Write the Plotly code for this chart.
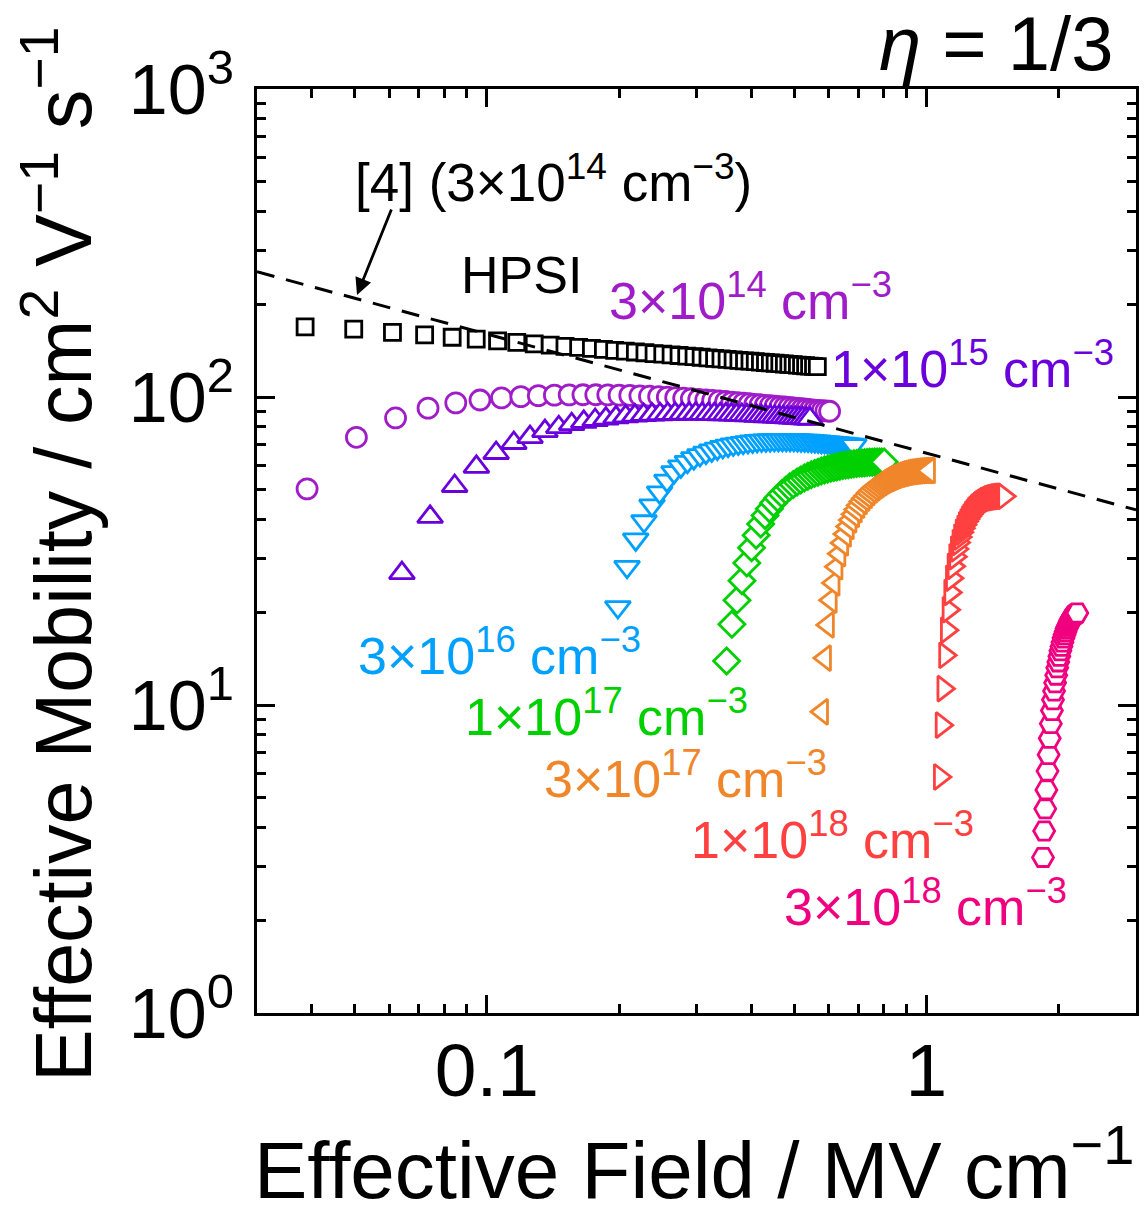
import math
import plotly.graph_objects as go

# ---------------- data ----------------
hpsi_x = [0.0386, 0.0498, 0.061, 0.0722, 0.0834, 0.0946, 0.1058, 0.117, 0.1282, 0.1394, 0.1506, 0.1618,
          0.173, 0.1842, 0.1954, 0.2066, 0.2178, 0.229, 0.2402, 0.2514, 0.2626, 0.2738, 0.285, 0.2962,
          0.3074, 0.3186, 0.3298, 0.341, 0.3522, 0.3634, 0.3746, 0.3858, 0.397, 0.4082, 0.4194, 0.4306,
          0.4418, 0.453, 0.4642, 0.4754, 0.4866, 0.4978, 0.509, 0.5202, 0.5314, 0.5426, 0.5538, 0.565]
hpsi_y = [169, 166, 162, 159, 156.3, 154.1, 152.1, 150.4, 148.8, 147.4, 146.1, 144.9,
          143.8, 142.7, 141.8, 140.9, 140.0, 139.2, 138.4, 137.7, 137.0, 136.4, 135.8, 135.2,
          134.6, 134.0, 133.5, 133.0, 132.5, 132.0, 131.5, 131.1, 130.7, 130.2, 129.8, 129.4,
          129.1, 128.7, 128.3, 128.0, 127.6, 127.3, 127.0, 126.6, 126.3, 126.0, 125.8, 125.5]

n3e14_x = [0.039, 0.0505, 0.062, 0.0735, 0.085, 0.0965, 0.108, 0.1195, 0.131, 0.1425, 0.154, 0.1655,
           0.177, 0.1885, 0.2, 0.2115, 0.223, 0.2345, 0.246, 0.2575, 0.269, 0.2805, 0.292, 0.3035,
           0.315, 0.3265, 0.338, 0.3495, 0.361, 0.3725, 0.384, 0.3955, 0.407, 0.4185, 0.43, 0.4415,
           0.453, 0.4645, 0.476, 0.4875, 0.499, 0.5105, 0.522, 0.5335, 0.545, 0.5565, 0.568, 0.5795,
           0.591, 0.6025]
n3e14_y = [50.3, 74, 85.5, 92, 95.7, 97.8, 99.3, 100.3, 101, 101.4, 101.6, 101.7,
           101.7, 101.6, 101.4, 101.2, 100.9, 100.6, 100.3, 99.9, 99.5, 99.1, 98.7, 98.3,
           97.9, 97.5, 97.1, 96.7, 96.3, 95.9, 95.5, 95.1, 94.7, 94.4, 94.0, 93.7,
           93.4, 93.1, 92.8, 92.5, 92.2, 91.9, 91.6, 91.3, 91.0, 90.7, 90.5, 90.3,
           90.1, 89.9]

n1e15_x = [0.0641, 0.0743, 0.0845, 0.0947, 0.105, 0.1152, 0.1254, 0.1356, 0.1458, 0.156, 0.1662, 0.1764,
           0.1866, 0.1968, 0.207, 0.2172, 0.2274, 0.2376, 0.2478, 0.258, 0.2682, 0.2784, 0.2886, 0.2988,
           0.309, 0.3192, 0.3294, 0.3396, 0.3498, 0.36, 0.3702, 0.3804, 0.3906, 0.4008, 0.411, 0.4212,
           0.4314, 0.4416, 0.4518, 0.462, 0.4722, 0.4824, 0.4926, 0.5028, 0.513, 0.5232, 0.5334, 0.5436]
n1e15_y = [26.8, 40.8, 51.4, 59.3, 65.8, 70.9, 74.1, 77.5, 79.8, 81.6, 83.0, 84.2,
           85.1, 85.9, 86.5, 87.0, 87.4, 87.7, 87.9, 88.1, 88.2, 88.3, 88.3, 88.3,
           88.2, 88.1, 88.0, 87.9, 87.8, 87.7, 87.5, 87.4, 87.2, 87.1, 86.9, 86.8,
           86.6, 86.5, 86.3, 86.2, 86.0, 85.9, 85.7, 85.6, 85.4, 85.3, 85.1, 85.0]

n3e16_x = [0.1987, 0.2085, 0.2182, 0.2279, 0.2376, 0.2473, 0.257, 0.2667, 0.2764, 0.2861, 0.2958, 0.3055,
           0.3152, 0.3249, 0.3346, 0.3443, 0.354, 0.3637, 0.3734, 0.3831, 0.3928, 0.4025, 0.4122, 0.4219,
           0.4316, 0.4413, 0.451, 0.4607, 0.4704, 0.4801, 0.4898, 0.4995, 0.5092, 0.5189, 0.5286, 0.5383,
           0.548, 0.5577, 0.5674, 0.5771, 0.5868, 0.5965, 0.6062, 0.6159, 0.6256, 0.6353, 0.645, 0.6547,
           0.6644, 0.6741, 0.684]
n3e16_y = [20.8, 28.1, 34.5, 39.5, 44.5, 49.0, 53.5, 57.0, 59.5, 61.6, 63.3, 64.8,
           66.0, 67.1, 68.0, 68.8, 69.5, 70.1, 70.6, 71.0, 71.4, 71.7, 72.0, 72.2,
           72.3, 72.4, 72.5, 72.6, 72.6, 72.6, 72.6, 72.5, 72.4, 72.3, 72.2, 72.1,
           72.0, 71.8, 71.7, 71.5, 71.4, 71.2, 71.1, 70.9, 70.8, 70.6, 70.5, 70.3,
           70.2, 70.0, 69.8]

n1e17_x = [0.3513, 0.3611, 0.3709, 0.3807, 0.3905, 0.4003, 0.4101, 0.4199, 0.4297, 0.4395, 0.4493, 0.4591,
           0.4689, 0.4787, 0.4885, 0.4983, 0.5081, 0.5179, 0.5277, 0.5375, 0.5473, 0.5571, 0.5669, 0.5767,
           0.5865, 0.5963, 0.6061, 0.6159, 0.6257, 0.6355, 0.6453, 0.6551, 0.6649, 0.6747, 0.6845, 0.6943,
           0.7041, 0.7139, 0.7237, 0.7335, 0.7433, 0.7531, 0.7629, 0.7727, 0.7825, 0.7923, 0.8021]
n1e17_y = [13.9, 18.3, 21.9, 25.3, 28.9, 32.4, 35.6, 38.7, 41.2, 43.4, 45.3, 47.0,
           48.5, 49.8, 51.0, 52.0, 53.0, 53.8, 54.6, 55.3, 55.9, 56.5, 57.0, 57.5,
           57.9, 58.3, 58.7, 59.0, 59.3, 59.6, 59.9, 60.1, 60.3, 60.5, 60.7, 60.8,
           61.0, 61.1, 61.2, 61.3, 61.4, 61.4, 61.5, 61.5, 61.5, 61.5, 61.5]

n3e17_x = [0.579, 0.588, 0.597, 0.606, 0.615, 0.6245, 0.634, 0.6435, 0.653, 0.6625, 0.672, 0.6815,
           0.691, 0.7005, 0.71, 0.7195, 0.729, 0.7385, 0.748, 0.7575, 0.767, 0.7765, 0.786, 0.7955,
           0.805, 0.8145, 0.824, 0.8335, 0.843, 0.8525, 0.862, 0.8715, 0.881, 0.8905, 0.9, 0.9095,
           0.919, 0.9285, 0.938, 0.9475, 0.957, 0.9665, 0.976, 0.9855, 0.995, 1.0045, 1.014]
n3e17_y = [9.5, 14.2, 18.2, 21.9, 24.9, 28.1, 31.0, 33.6, 35.9, 38.0, 39.9, 41.6,
           43.1, 44.5, 45.8, 46.9, 47.9, 48.9, 49.8, 50.6, 51.3, 52.0, 52.6, 53.2,
           53.7, 54.2, 54.6, 55.0, 55.4, 55.7, 56.0, 56.3, 56.5, 56.7, 56.9, 57.1,
           57.2, 57.3, 57.4, 57.5, 57.6, 57.6, 57.7, 57.7, 57.7, 57.7, 57.7]

n1e18_x = [1.074, 1.084, 1.094, 1.104, 1.114, 1.124, 1.134, 1.144, 1.154, 1.164, 1.174, 1.184,
           1.194, 1.204, 1.214, 1.224, 1.234, 1.244, 1.254, 1.264, 1.274, 1.284, 1.294, 1.304,
           1.314, 1.324, 1.334, 1.344, 1.354, 1.364, 1.374, 1.384, 1.394, 1.404, 1.414, 1.424,
           1.434, 1.444, 1.454, 1.464, 1.474, 1.484, 1.494, 1.504]
n1e18_y = [5.84, 8.6, 11.3, 14.5, 17.5, 20.4, 23.2, 25.8, 28.2, 30.3, 32.1, 33.7,
           35.1, 36.4, 37.5, 38.5, 39.4, 40.2, 40.9, 41.6, 42.2, 42.8, 43.3, 43.8,
           44.2, 44.6, 45.0, 45.3, 45.6, 45.9, 46.2, 46.4, 46.6, 46.8, 47.0, 47.1,
           47.2, 47.3, 47.4, 47.5, 47.5, 47.6, 47.6, 47.6]

n3e18_x = [1.843, 1.854, 1.865, 1.876, 1.887, 1.898, 1.909, 1.92, 1.931, 1.942, 1.953, 1.964,
           1.975, 1.986, 1.997, 2.008, 2.019, 2.03, 2.041, 2.052, 2.063, 2.074, 2.085, 2.096,
           2.107, 2.118, 2.129, 2.14, 2.151, 2.162, 2.173, 2.184, 2.195, 2.206]
n3e18_y = [3.2, 3.9, 4.6, 5.3, 6.1, 6.9, 7.8, 8.7, 9.6, 10.4, 11.1, 11.8,
           12.5, 13.2, 13.8, 14.4, 15.0, 15.5, 16.0, 16.5, 16.9, 17.3, 17.7, 18.0,
           18.3, 18.6, 18.9, 19.1, 19.3, 19.5, 19.6, 19.7, 19.8, 19.9]

ref4_x = [0.03, 3.0]
ref4_y = [255, 43]

series_labels = ["HPSI", "3×10<sup>14</sup> cm<sup>−3</sup>", "1×10<sup>15</sup> cm<sup>−3</sup>",
                 "3×10<sup>16</sup> cm<sup>−3</sup>", "1×10<sup>17</sup> cm<sup>−3</sup>",
                 "3×10<sup>17</sup> cm<sup>−3</sup>", "1×10<sup>18</sup> cm<sup>−3</sup>",
                 "3×10<sup>18</sup> cm<sup>−3</sup>"]
ref_label = "[4] (3×10<sup>14</sup> cm<sup>−3</sup>)"

x_tickvals = [0.1, 1]
x_ticktext = ["0.1", "1"]
y_tickvals = [1, 10, 100, 1000]
y_ticktext = ["10<sup>0</sup>", "10<sup>1</sup>", "10<sup>2</sup>", "10<sup>3</sup>"]

# ---------------- styles ----------------
FONT = "Liberation Sans, Arial, sans-serif"
colors = ["#000000", "#A01CC8", "#6A00DC", "#00A0FF", "#00D000", "#F0862A", "#FF4040", "#F0007F"]
symbols = ["square", "circle", "triangle-up", "triangle-down", "diamond", "triangle-left",
           "triangle-right", "hexagon2"]
sizes = [16, 20, 22, 22, 20, 22, 22, 21]
datasets = [(hpsi_x, hpsi_y), (n3e14_x, n3e14_y), (n1e15_x, n1e15_y), (n3e16_x, n3e16_y),
            (n1e17_x, n1e17_y), (n3e17_x, n3e17_y), (n1e18_x, n1e18_y), (n3e18_x, n3e18_y)]

fig = go.Figure()
for (xs, ys), c, s, sz, name in zip(datasets, colors, symbols, sizes, series_labels):
    fig.add_trace(go.Scatter(x=xs, y=ys, mode="markers", name=name, showlegend=False,
                             marker=dict(symbol=s, size=sz, color="white",
                                         line=dict(color=c, width=2.8))))

fig.add_trace(go.Scatter(x=ref4_x, y=ref4_y, mode="lines", showlegend=False,
                         line=dict(color="black", width=3, dash="18px,12px")))

axis_common = dict(type="log", showline=True, linecolor="black", linewidth=3, mirror="ticks",
                   ticks="inside", ticklen=18, tickwidth=2.5, tickcolor="black",
                   showgrid=False, zeroline=False,
                   minor=dict(ticks="inside", ticklen=9, tickwidth=2.5, tickcolor="black",
                              dtick="D1", showgrid=False))

fig.update_xaxes(range=[math.log10(0.03), math.log10(3)], tickmode="array", tickvals=x_tickvals,
                 ticktext=x_ticktext, tickfont=dict(family=FONT, size=75, color="black"),
                 ticklabelstandoff=-10, **axis_common)
fig.update_yaxes(range=[0, 3], tickmode="array", tickvals=y_tickvals, ticktext=y_ticktext,
                 tickfont=dict(family=FONT, size=70, color="black"), ticklabelstandoff=6,
                 **axis_common)

W, H = 1147, 1209
L, R, T, B = 257, 11, 89, 196
pw, ph = W - L - R, H - T - B


def px(x):
    return (x - L) / pw


def py(y):
    return (H - B - y) / ph


annotations = []
label_pos = [(521, 275), (750, 297), (972, 365), (499, 652), (606, 713), (685, 775), (832, 836),
             (925, 903)]
for (lx, ly), txt, c in zip(label_pos, series_labels, colors):
    annotations.append(dict(x=px(lx), y=py(ly), xref="paper", yref="paper", text=txt,
                            showarrow=False, font=dict(family=FONT, size=52, color=c),
                            xanchor="center", yanchor="middle"))
annotations.append(dict(x=px(553), y=py(178), xref="paper", yref="paper", text=ref_label,
                        showarrow=False, font=dict(family=FONT, size=53, color="black"),
                        xanchor="center", yanchor="middle"))
annotations.append(dict(x=px(357), y=py(295), xref="paper", yref="paper", text="",
                        showarrow=True, ax=35, ay=-87, arrowhead=2, arrowsize=1.2,
                        arrowwidth=2.8, arrowcolor="black", standoff=0))
annotations.append(dict(x=px(996), y=py(43), xref="paper", yref="paper", text="<i>η</i> = 1/3",
                        showarrow=False, font=dict(family=FONT, size=76, color="black"),
                        xanchor="center", yanchor="middle"))
annotations.append(dict(x=px(694), y=py(1164), xref="paper", yref="paper",
                        text="Effective Field / MV cm<sup>−1</sup>", showarrow=False,
                        font=dict(family=FONT, size=80, color="black"),
                        xanchor="center", yanchor="middle"))
annotations.append(dict(x=px(58), y=py(555), xref="paper", yref="paper",
                        text="Effective Mobility / cm<sup>2</sup> V<sup>−1</sup> s<sup>−1</sup>",
                        showarrow=False, textangle=-90,
                        font=dict(family=FONT, size=79, color="black"),
                        xanchor="center", yanchor="middle"))

fig.update_layout(width=W, height=H, margin=dict(l=L, r=R, t=T, b=B, autoexpand=False),
                  paper_bgcolor="white", plot_bgcolor="white", annotations=annotations,
                  font=dict(family=FONT))

fig.write_html("out.html")
